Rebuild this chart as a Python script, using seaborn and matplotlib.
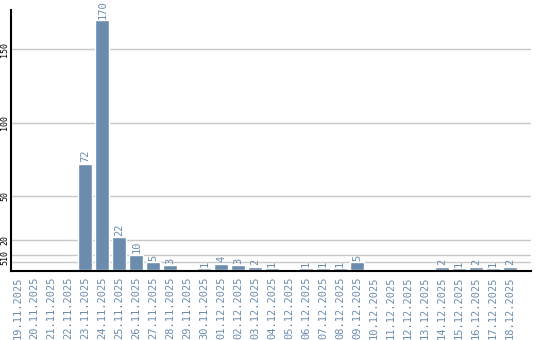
import matplotlib
matplotlib.use("Agg")
import matplotlib.pyplot as plt
import seaborn as sns
import pandas as pd

dates = ["19.11.2025", "20.11.2025", "21.11.2025", "22.11.2025", "23.11.2025",
         "24.11.2025", "25.11.2025", "26.11.2025", "27.11.2025", "28.11.2025",
         "29.11.2025", "30.11.2025", "01.12.2025", "02.12.2025", "03.12.2025",
         "04.12.2025", "05.12.2025", "06.12.2025", "07.12.2025", "08.12.2025",
         "09.12.2025", "10.12.2025", "11.12.2025", "12.12.2025", "13.12.2025",
         "14.12.2025", "15.12.2025", "16.12.2025", "17.12.2025", "18.12.2025"]
values = [0, 0, 0, 0, 72, 170, 22, 10, 5, 3, 0, 1, 4, 3, 2, 1, 0, 1, 1, 1,
          5, 0, 0, 0, 0, 2, 1, 2, 1, 2]
yticks = [5, 10, 20, 50, 100, 150]

bar_color = "#6b8cad"
label_color = "#6b8cad"

sns.set_style("white")
plt.rcParams['font.family'] = ['DejaVu Sans Mono', 'DejaVu Sans']

df = pd.DataFrame({"date": dates, "value": values})

fig = plt.figure(figsize=(5.4, 3.4), dpi=100)
ax = fig.add_axes([10.5 / 540, 69.5 / 340, 520.5 / 540, 260.5 / 340])

for t in yticks:
    ax.axhline(t, color="#c8c8c8", lw=1, zorder=0)

sns.barplot(data=df, x="date", y="value", color=bar_color, width=0.82,
            saturation=1, ax=ax, zorder=2)

for i, v in enumerate(values):
    if v > 0:
        ax.text(i, v + 1.0, str(v), rotation=90, ha="center", va="bottom",
                color=label_color, fontsize=7.5)

ax.set_xlim(-0.41, 30.24)
ax.set_ylim(-0.6, 176.9)
ax.set_yticks(yticks)
ax.set_yticklabels([str(t) for t in yticks], rotation=90, va="center",
                   fontsize=6, color="black")
ax.tick_params(axis="y", length=0, pad=1)
ax.tick_params(axis="x", length=0, pad=4)
ax.set_xticks(range(len(dates)))
ax.set_xticklabels(dates, rotation=90, fontsize=7.5, color=label_color)
ax.set_xlabel("")
ax.set_ylabel("")
for s in ["top", "right"]:
    ax.spines[s].set_visible(False)
for s in ["left", "bottom"]:
    ax.spines[s].set_color("black")
    ax.spines[s].set_linewidth(1.5)

fig.savefig("out.png", dpi=100)
